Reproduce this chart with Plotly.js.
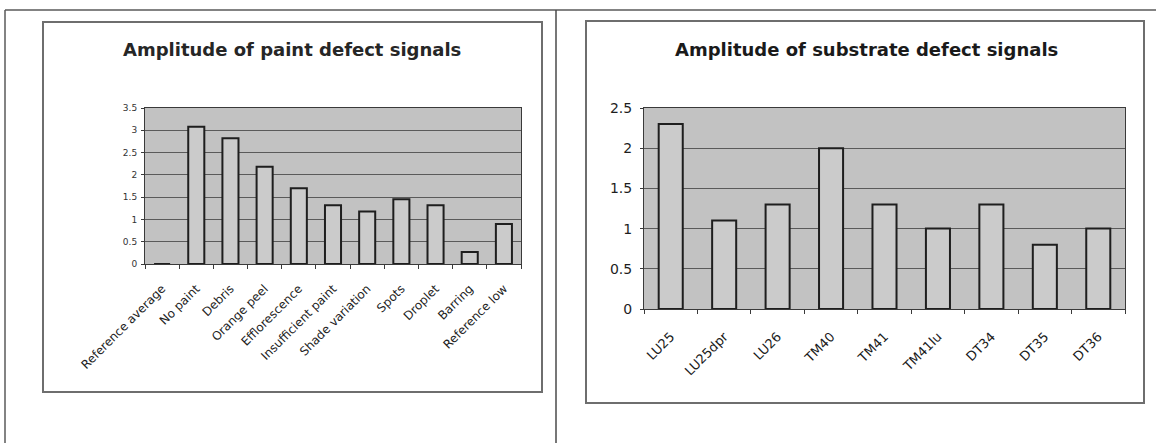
<!DOCTYPE html>
<html>
<head>
<meta charset="utf-8">
<script src="https://cdn.plot.ly/plotly-3.0.1.min.js"></script>
<style>
  html, body { margin: 0; padding: 0; background: #ffffff; }
  #chart { width: 1156px; height: 443px; }
</style>
</head>
<body>
<div id="chart"></div>
<script>
// Paint defect signal amplitudes
const paintCategories = ['Reference average', 'No paint', 'Debris', 'Orange peel', 'Efflorescence',
  'Insufficient paint', 'Shade variation', 'Spots', 'Droplet', 'Barring', 'Reference low'];
const paintValues = [0, 3.08, 2.82, 2.18, 1.7, 1.32, 1.18, 1.45, 1.32, 0.27, 0.9];

// Substrate defect signal amplitudes
const substrateCategories = ['LU25', 'LU25dpr', 'LU26', 'TM40', 'TM41', 'TM41lu', 'DT34', 'DT35', 'DT36'];
const substrateValues = [2.3, 1.1, 1.3, 2.0, 1.3, 1.0, 1.3, 0.8, 1.0];

const paintTickVals = [0, 0.5, 1, 1.5, 2, 2.5, 3, 3.5];
const paintTickText = ['0', '0.5', '1', '1.5', '2', '2.5', '3', '3.5'];
const substrateTickVals = [0, 0.5, 1, 1.5, 2, 2.5];
const substrateTickText = ['0', '0.5', '1', '1.5', '2', '2.5'];

const W = 1156, H = 443;
const px = x => x / W;
const py = y => 1 - y / H;

const FONT = 'DejaVu Sans, Liberation Sans, Arial, sans-serif';
const BAR_FILL = '#cbcbcb';
const BAR_EDGE = '#1e1e1e';
const PLOT_BG = '#c2c2c2';
const GRID = '#5a5a5a';
const FRAME = '#6e6e6e';

const traces = [
  {
    type: 'bar', x: paintCategories, y: paintValues, xaxis: 'x', yaxis: 'y',
    width: 0.47,
    marker: { color: BAR_FILL, line: { color: BAR_EDGE, width: 2 } },
    hoverinfo: 'x+y'
  },
  {
    type: 'bar', x: substrateCategories, y: substrateValues, xaxis: 'x2', yaxis: 'y2',
    width: 0.45,
    marker: { color: BAR_FILL, line: { color: BAR_EDGE, width: 2 } },
    hoverinfo: 'x+y'
  }
];

// Rectangle helper for the surrounding frames drawn in pixel positions
function rect(x0, y0, x1, y1, color, width) {
  return { type: 'rect', xref: 'paper', yref: 'paper', x0: px(x0), x1: px(x1), y0: py(y1), y1: py(y0),
    line: { color: color, width: width }, fillcolor: 'rgba(0,0,0,0)', layer: 'above' };
}
function line(x0, y0, x1, y1, color, width) {
  return { type: 'line', xref: 'paper', yref: 'paper', x0: px(x0), x1: px(x1), y0: py(y0), y1: py(y1),
    line: { color: color, width: width }, layer: 'above' };
}

const commonX = {
  type: 'category',
  showgrid: false,
  showline: true, linecolor: '#3a3a3a', linewidth: 1, mirror: true,
  ticks: 'outside', tickson: 'boundaries', ticklen: 4, tickcolor: '#3a3a3a',
  tickangle: -45,
  fixedrange: true
};
const commonY = {
  showgrid: true, gridcolor: GRID, gridwidth: 1,
  showline: true, linecolor: '#3a3a3a', linewidth: 1, mirror: true,
  ticks: 'outside', ticklen: 3, tickcolor: '#3a3a3a',
  zeroline: false,
  fixedrange: true
};

const layout = {
  width: W, height: H,
  margin: { l: 0, r: 0, t: 0, b: 0 },
  paper_bgcolor: '#ffffff',
  plot_bgcolor: PLOT_BG,
  showlegend: false,
  xaxis: Object.assign({}, commonX, {
    domain: [px(145), px(521)], anchor: 'y',
    tickfont: { family: FONT, size: 12, color: '#222222' },
    ticklabelstandoff: 12
  }),
  yaxis: Object.assign({}, commonY, {
    domain: [py(264), py(108)], anchor: 'x',
    range: [0, 3.5], tickvals: paintTickVals, ticktext: paintTickText,
    tickfont: { family: FONT, size: 9, color: '#333333' },
    ticklabelstandoff: 2
  }),
  xaxis2: Object.assign({}, commonX, {
    domain: [px(644), px(1125)], anchor: 'y2',
    tickfont: { family: FONT, size: 13, color: '#1a1a1a' },
    ticklabelstandoff: 14
  }),
  yaxis2: Object.assign({}, commonY, {
    domain: [py(309), py(108)], anchor: 'x2',
    range: [0, 2.5], tickvals: substrateTickVals, ticktext: substrateTickText,
    tickfont: { family: FONT, size: 14, color: '#1e1e1e' },
    ticklabelstandoff: 5
  }),
  annotations: [
    { xref: 'paper', yref: 'paper', x: px(292), y: py(49), xanchor: 'center', yanchor: 'middle',
      showarrow: false, text: '<b>Amplitude of paint defect signals</b>',
      font: { family: FONT, size: 18, color: '#262626' } },
    { xref: 'paper', yref: 'paper', x: px(866), y: py(49), xanchor: 'center', yanchor: 'middle',
      showarrow: false, text: '<b>Amplitude of substrate defect signals</b>',
      font: { family: FONT, size: 18, color: '#1a1a1a' } }
  ],
  shapes: [
    // page rules
    line(5, 10, 1156, 10, '#5a5a5a', 1.5),
    line(5, 10, 5, 443, '#5a5a5a', 1.5),
    line(556, 10, 556, 443, '#4a4a4a', 1.5),
    // chart frames
    rect(43, 22, 542, 392, FRAME, 2),
    rect(586, 21, 1144, 403, FRAME, 2)
  ]
};

Plotly.newPlot('chart', traces, layout, { staticPlot: true, displayModeBar: false });
</script>
</body>
</html>
